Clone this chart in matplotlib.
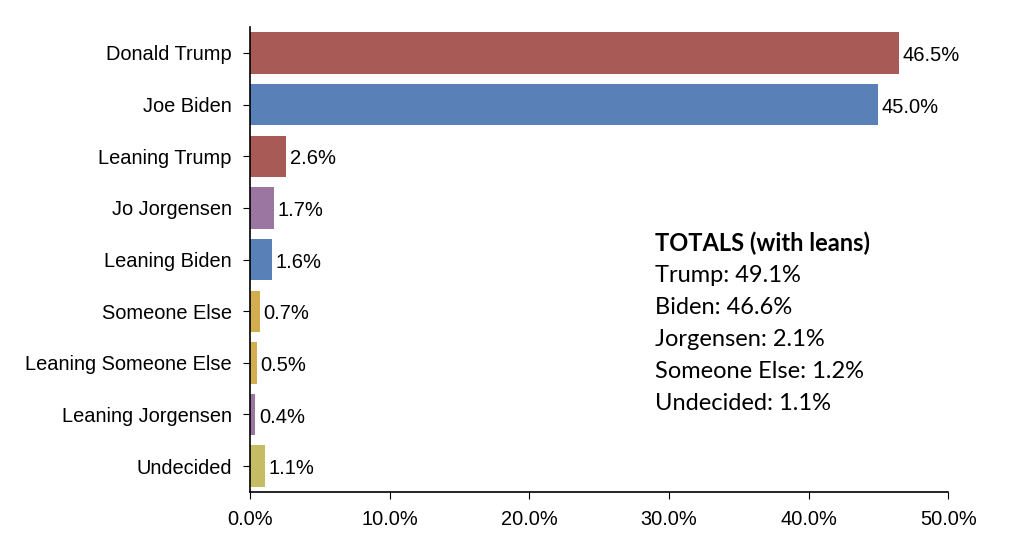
import matplotlib.pyplot as plt
from matplotlib.ticker import FuncFormatter

candidates = ["Donald Trump", "Joe Biden", "Leaning Trump", "Jo Jorgensen", "Leaning Biden",
              "Someone Else", "Leaning Someone Else", "Leaning Jorgensen", "Undecided"]
shares = [46.5, 45.0, 2.6, 1.7, 1.6, 0.7, 0.5, 0.4, 1.1]
colors = ["#A85A57", "#5A80B8", "#A85A57", "#9A76A0", "#5A80B8",
          "#D2AE4E", "#D2AE4E", "#9A76A0", "#C5BC64"]
totals = ["Trump: 49.1%", "Biden: 46.6%", "Jorgensen: 2.1%",
          "Someone Else: 1.2%", "Undecided: 1.1%"]

plt.rcParams['font.family'] = ['Liberation Sans', 'DejaVu Sans']

fig = plt.figure(figsize=(10.24, 5.43), dpi=100)
ax = fig.add_axes([0.244, 0.094, 0.682, 0.856])

ypos = list(range(len(candidates)))
ax.barh(ypos, shares, height=0.8, color=colors)
for y, v in zip(ypos, shares):
    ax.text(v + 0.25, y + 0.05, "%.1f%%" % v, va='center', ha='left', fontsize=14.5)

ax.set_ylim(len(candidates) - 0.5, -0.5)
ax.set_xlim(0, 50)
ax.set_yticks(ypos)
ax.set_yticklabels(candidates, fontsize=14.4)
ax.set_xticks([0, 10, 20, 30, 40, 50])
ax.xaxis.set_major_formatter(FuncFormatter(lambda x, p: "%.1f%%" % x))
ax.tick_params(axis='x', labelsize=14.4, length=5, pad=8)
ax.tick_params(axis='y', length=5, pad=8)
for s in ['top', 'right']:
    ax.spines[s].set_visible(False)
ax.spines['left'].set_linewidth(1.2)
ax.spines['bottom'].set_linewidth(1.2)

tx, ty = 655 / 1024, 1 - 243 / 543
fig.text(tx, ty, "TOTALS (with leans)", fontsize=17, fontweight='bold',
         family=['Lato', 'DejaVu Sans'], va='center')
for i, line in enumerate(totals):
    fig.text(tx, ty - (i + 1) * 32 / 543, line, fontsize=17,
             family=['Lato', 'DejaVu Sans'], va='center')

fig.savefig("out.png", dpi=100)
